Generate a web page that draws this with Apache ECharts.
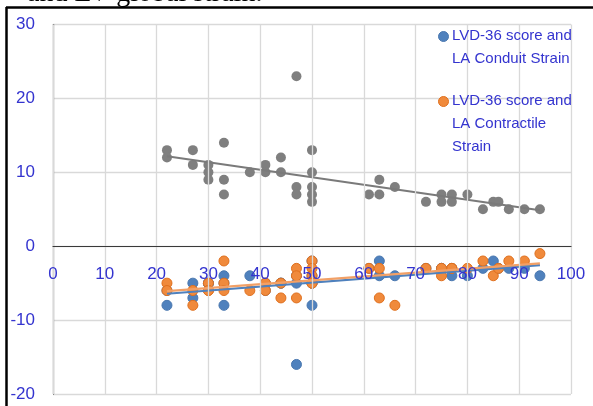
<!DOCTYPE html>
<html>
<head>
<meta charset="utf-8">
<script src="https://cdn.jsdelivr.net/npm/echarts@6/dist/echarts.min.js"></script>
<style>
  html, body { margin: 0; padding: 0; background: #ffffff; }
  #chart { width: 593px; height: 406px; }
</style>
</head>
<body>
<div id="chart"></div>
<script>
// LVD-36 score (x) for each patient, with the matching strain values
const globalX = [22,22,27,27,30,30,30,33,33,33,38,41,41,44,44,47,47,47,50,50,50,50,50,61,63,63,66,72,75,75,77,77,80,83,85,86,88,91,94];
const globalY = [13,12,13,11,11,10,9,14,9,7,10,11,10,12,10,23,8,7,13,10,8,7,6,7,9,7,8,6,7,6,7,6,7,5,6,6,5,5,5];

const conduitX = [22,22,27,27,30,30,30,33,33,33,38,41,41,44,44,47,47,47,50,50,50,50,50,61,63,63,66,72,75,75,77,77,80,83,85,86,88,91,94];
const conduitY = [-6,-8,-5,-7,-5,-5,-5,-4,-5,-8,-4,-5,-6,-5,-5,-16,-5,-4,-2,-5,-8,-4,-5,-3,-2,-4,-4,-3,-3,-3,-4,-3,-4,-3,-2,-3,-3,-3,-4];

const contractileX = [22,22,27,27,30,30,30,33,33,33,38,41,41,44,44,47,47,47,50,50,50,50,50,61,63,63,66,72,75,75,77,77,80,83,85,86,88,91,94];
const contractileY = [-5,-6,-6,-8,-5,-6,-6,-2,-5,-6,-6,-5,-6,-5,-7,-3,-4,-7,-2,-3,-4,-5,-5,-3,-3,-7,-8,-3,-3,-4,-3,-3,-3,-2,-4,-3,-2,-2,-1];

const xTicks = [0,10,20,30,40,50,60,70,80,90,100];
const yTicks = [-20,-10,0,10,20,30];

const nameGlobal = 'LVD-36 score and LV Global Strain';
const nameConduit = 'LVD-36 score and LA Conduit Strain';
const nameContractile = 'LVD-36 score and LA Contractile Strain';
const legendConduit = ['LVD-36 score and', 'LA Conduit Strain'];
const legendContractile = ['LVD-36 score and', 'LA Contractile', 'Strain'];

function pairs(xs, ys) {
  return xs.map((x, i) => [x, ys[i]]);
}

// least-squares linear trend across the range of x values
function trend(xs, ys) {
  const n = xs.length;
  let sx = 0, sy = 0, sxx = 0, sxy = 0;
  for (let i = 0; i < n; i++) {
    sx += xs[i]; sy += ys[i]; sxx += xs[i] * xs[i]; sxy += xs[i] * ys[i];
  }
  const slope = (n * sxy - sx * sy) / (n * sxx - sx * sx);
  const icpt = (sy - slope * sx) / n;
  const lo = Math.min(...xs), hi = Math.max(...xs);
  return [[lo, icpt + slope * lo], [hi, icpt + slope * hi]];
}

const labelBlue = '#3434cf';
const gray = '#7f7f7f';
const blue = '#4f81bd';
const orange = '#f08a3c';

const W = 593, H = 406;
const gridLeft = 53, gridRight = 22, gridTop = 24.5, gridBottom = 12;
const yMin = yTicks[0], yMax = yTicks[yTicks.length - 1];
// x axis sits on the y = 0 line: shift it up from the bottom of the grid
const plotH = H - gridTop - gridBottom;
const xAxisOffset = -plotH * (0 - yMin) / (yMax - yMin);

const chart = echarts.init(document.getElementById('chart'), null, { renderer: 'canvas' });

// legend block: marker beside the first line of each wrapped label
function legendItem(top, color, border, lines) {
  return [
    {
      type: 'circle', left: 438, top: top - 5, z: 30,
      shape: { r: 5 },
      style: { fill: color, stroke: border, lineWidth: 1 }
    },
    {
      type: 'text', left: 452, top: top - 11.5, z: 30,
      style: {
        text: lines.join('\n'), fill: labelBlue,
        font: '15px "Liberation Sans"', lineHeight: 23
      }
    }
  ];
}

chart.setOption({
  animation: false,
  backgroundColor: '#ffffff',
  grid: { left: gridLeft, right: gridRight, top: gridTop, bottom: gridBottom, containLabel: false, outerBoundsMode: 'none' },
  xAxis: {
    type: 'value', min: xTicks[0], max: xTicks[xTicks.length - 1], interval: 10,
    offset: xAxisOffset, z: 10,
    axisLine: { onZero: false, lineStyle: { color: '#3a3a3a', width: 1.2 } },
    axisTick: { show: false },
    axisLabel: { color: labelBlue, fontFamily: 'Liberation Sans', fontSize: 17, margin: 20 },
    splitLine: { show: true, lineStyle: { color: '#d9d9d9', width: 1.3 } }
  },
  yAxis: {
    type: 'value', min: yMin, max: yMax, interval: 10,
    axisLine: { show: true, onZero: false, lineStyle: { color: '#3a3a3a', width: 1.2 } },
    axisTick: { show: false },
    axisLabel: { color: labelBlue, fontFamily: 'Liberation Sans', fontSize: 17, margin: 18 },
    splitLine: { show: true, lineStyle: { color: '#d9d9d9', width: 1.3 } }
  },
  graphic: [
    {
      type: 'text', left: 27, top: -20, z: 10,
      style: { text: 'and LV global strain.', font: '28px "Liberation Serif"', fill: '#000' }
    },
    {
      type: 'line', z: 20,
      shape: { x1: 6, y1: 7.5, x2: W, y2: 7.5 },
      style: { stroke: '#000', lineWidth: 2.5 }
    },
    {
      type: 'line', z: 20,
      shape: { x1: 6.5, y1: 7, x2: 6.5, y2: H },
      style: { stroke: '#000', lineWidth: 2.5 }
    },
    ...legendItem(36, blue, '#4a78b0', legendConduit),
    ...legendItem(101, orange, '#e0701e', legendContractile)
  ],
  series: [
    {
      name: nameGlobal, type: 'scatter', symbolSize: 10, z: 2,
      itemStyle: { color: gray, opacity: 1 },
      data: pairs(globalX, globalY)
    },
    {
      name: nameConduit, type: 'scatter', symbolSize: 10, z: 2,
      itemStyle: { color: blue, borderColor: '#4a78b0', borderWidth: 1, opacity: 1 },
      data: pairs(conduitX, conduitY)
    },
    {
      name: nameContractile, type: 'scatter', symbolSize: 10, z: 3,
      itemStyle: { color: orange, borderColor: '#e0701e', borderWidth: 1, opacity: 1 },
      data: pairs(contractileX, contractileY)
    },
    {
      name: nameGlobal + ' trend', type: 'line', z: 4, symbol: 'none', silent: true,
      lineStyle: { color: '#7a7a7a', width: 2 },
      data: trend(globalX, globalY)
    },
    {
      name: nameConduit + ' trend', type: 'line', z: 4, symbol: 'none', silent: true,
      lineStyle: { color: '#4f81bd', width: 2.2 },
      data: trend(conduitX, conduitY)
    },
    {
      name: nameContractile + ' trend', type: 'line', z: 5, symbol: 'none', silent: true,
      lineStyle: { color: '#f2a066', width: 2.2 },
      data: trend(contractileX, contractileY)
    }
  ]
});
</script>
</body>
</html>
